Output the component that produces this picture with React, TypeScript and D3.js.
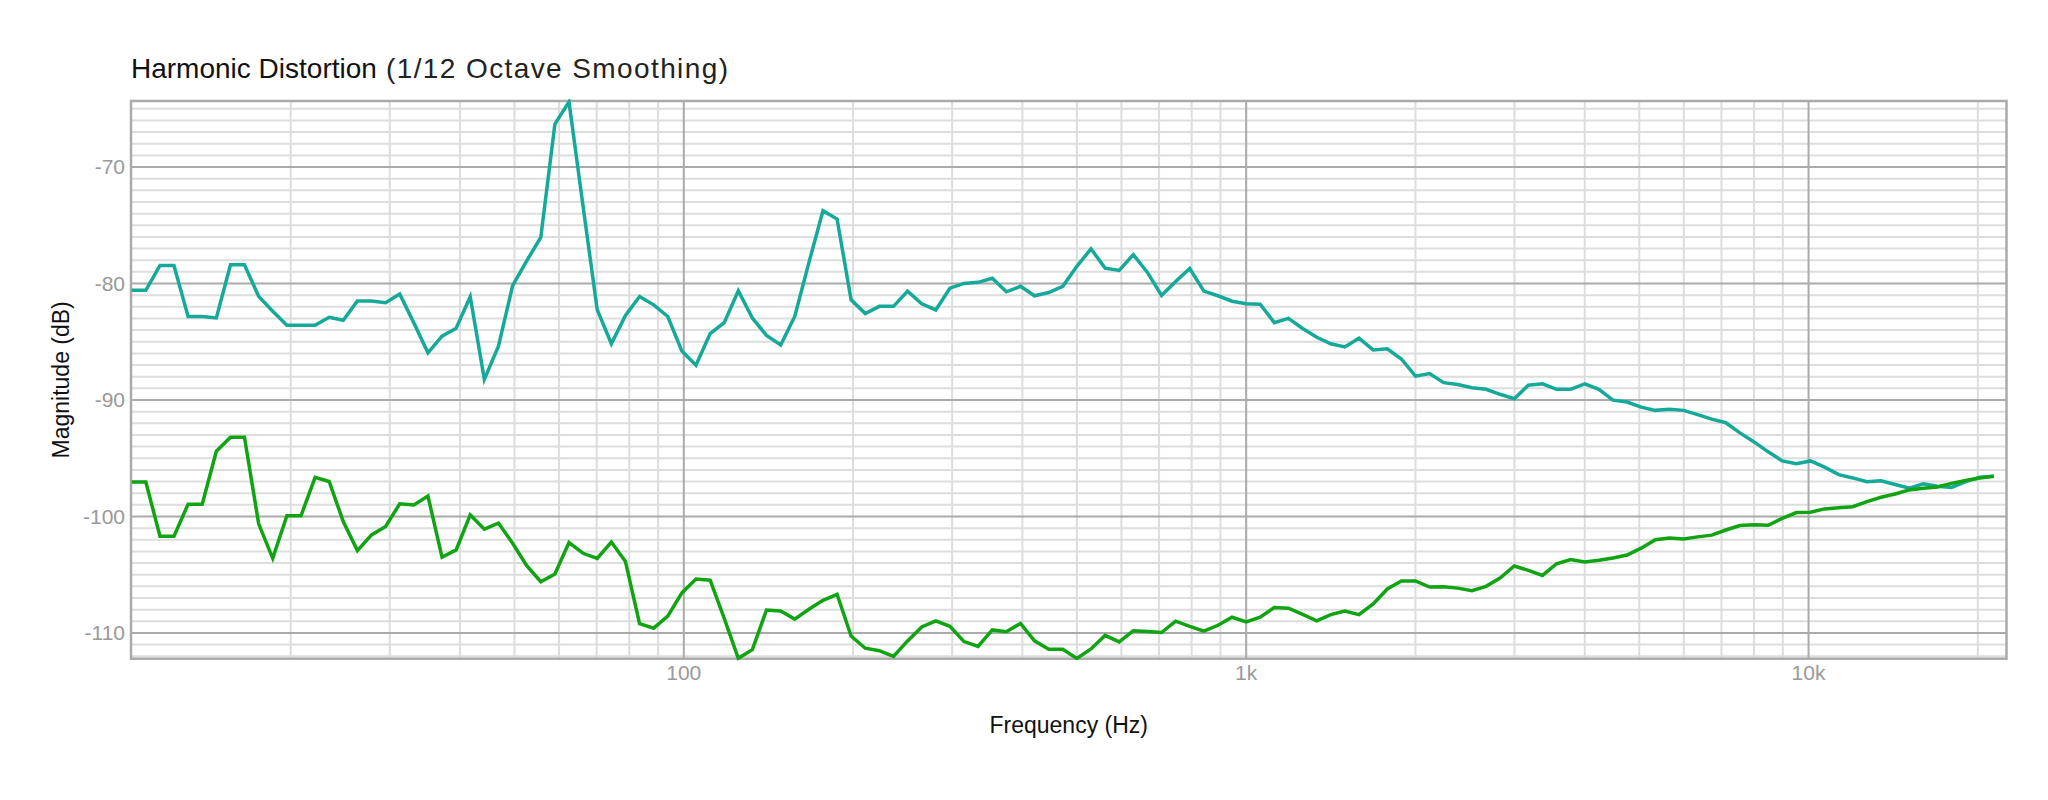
import React from "react";
import * as d3 from "d3";

const freqs: number[] = [
  10.43, 11.05, 11.71, 12.4, 13.14, 13.92, 14.75,
  15.63, 16.55, 17.54, 18.58, 19.69, 20.86, 22.1, 23.41, 24.8, 26.28, 27.84, 29.5,
  31.25, 33.11, 35.08, 37.16, 39.37, 41.71, 44.19, 46.82, 49.61, 52.56, 55.68, 58.99,
  62.5, 66.22, 70.15, 74.33, 78.75, 83.43, 88.39, 93.65, 99.21, 105.1, 111.4, 118.0,
  125, 132.4, 140.3, 148.7, 157.5, 166.9, 176.8, 187.3, 198.4, 210.2, 222.7, 236.0,
  250, 264.9, 280.6, 297.3, 315.0, 333.7, 353.6, 374.6, 396.9, 420.4, 445.5, 471.9,
  500, 529.7, 561.2, 594.6, 630.0, 667.4, 707.1, 749.2, 793.7, 840.9, 890.9, 943.9,
  1000, 1059, 1122, 1189, 1260, 1335, 1414, 1498, 1587, 1682, 1782, 1888,
  2000, 2119, 2245, 2378, 2520, 2670, 2828, 2997, 3175, 3364, 3564, 3775,
  4000, 4238, 4490, 4757, 5040, 5339, 5657, 5993, 6350, 6727, 7127, 7551,
  8000, 8476, 8980, 9514, 10079, 10679, 11314, 11986, 12699, 13454, 14254, 15102,
  16000, 16951, 17959, 19027, 20159, 21357,
];

const seriesTeal: number[] = [
  -80.58, -80.58, -78.45, -78.45, -82.84, -82.84, -82.95, -78.39, -78.39, -81.1,
  -82.38, -83.58, -83.58, -83.58, -82.9, -83.15, -81.5, -81.5, -81.64, -80.9,
  -83.38, -85.95, -84.52, -83.84, -81.13, -88.23, -85.38, -80.19, -78.05, -76.05,
  -66.32, -64.41, -73.4, -82.24, -85.17, -82.74, -81.11, -81.83, -82.83, -85.8,
  -87.02, -84.3, -83.36, -80.62, -82.96, -84.46, -85.27, -82.83, -78.21, -73.75,
  -74.46, -81.4, -82.58, -81.96, -81.96, -80.65, -81.74, -82.27, -80.4, -79.99,
  -79.9, -79.55, -80.71, -80.24, -81.05, -80.77, -80.24, -78.52, -77.02, -78.68,
  -78.87, -77.52, -79.05, -81.02, -79.83, -78.71, -80.65, -81.05, -81.52, -81.74,
  -81.77, -83.36, -82.99, -83.86, -84.61, -85.17, -85.45, -84.7, -85.7, -85.61,
  -86.48, -87.95, -87.73, -88.51, -88.67, -88.95, -89.08, -89.51, -89.89, -88.73,
  -88.61, -89.08, -89.08, -88.61, -89.08, -90.01, -90.17, -90.61, -90.89, -90.79,
  -90.89, -91.26, -91.64, -91.95, -92.82, -93.6, -94.45, -95.23, -95.48, -95.23,
  -95.76, -96.41, -96.69, -97.01, -96.94, -97.26, -97.57, -97.19, -97.41, -97.5,
  -97.01, -96.63, -96.54,
];

const seriesGreen: number[] = [
  -97.04, -97.04, -101.69, -101.69, -98.94, -98.94, -94.4, -93.2, -93.2, -100.63,
  -103.59, -99.94, -99.94, -96.64, -97.0, -100.43, -102.93, -101.58, -100.86, -98.91,
  -99.02, -98.25, -103.5, -102.87, -99.86, -101.09, -100.57, -102.3, -104.22, -105.6,
  -104.94, -102.24, -103.16, -103.6, -102.19, -103.87, -109.21, -109.59, -108.56, -106.56,
  -105.37, -105.47, -108.74, -112.18, -111.43, -108.03, -108.12, -108.81, -107.96, -107.2,
  -106.68, -110.27, -111.31, -111.52, -112.02, -110.68, -109.49, -108.96, -109.43, -110.74,
  -111.15, -109.74, -109.9, -109.18, -110.68, -111.4, -111.4, -112.18, -111.37, -110.21,
  -110.77, -109.81, -109.87, -109.96, -108.99, -109.43, -109.84, -109.34, -108.65, -109.06,
  -108.65, -107.81, -107.87, -108.4, -108.96, -108.43, -108.12, -108.43, -107.5, -106.22,
  -105.53, -105.53, -106.06, -106.03, -106.15, -106.37, -106.0, -105.28, -104.25, -104.62,
  -105.06, -104.06, -103.69, -103.91, -103.75, -103.56, -103.31, -102.72, -102.0, -101.84,
  -101.94, -101.75, -101.6, -101.16, -100.78, -100.72, -100.75, -100.16, -99.66, -99.63,
  -99.35, -99.25, -99.16, -98.72, -98.35, -98.07, -97.72, -97.57, -97.47, -97.16,
  -96.91, -96.69, -96.54,
];

const xTickValues: number[] = [100, 1000, 10000];
const xTickLabels: string[] = ["100", "1k", "10k"];
const yTickValues: number[] = [-70, -80, -90, -100, -110];

const X_DOMAIN: [number, number] = [10.4, 22490];
const Y_DOMAIN: [number, number] = [-112.21, -64.33];

const W = 2048;
const H = 800;
const M = { left: 131, top: 101, right: 2006.5, bottom: 658.7 };

const TEAL = "#15a99a";
const GREEN = "#10a312";
const MAJOR = "#aaaaaa";
const MINOR = "#dddddd";
const FONT = "'Liberation Sans', Arial, Helvetica, sans-serif";

export default function App() {
  const x = d3.scaleLog().domain(X_DOMAIN).range([M.left, M.right]);
  const y = d3.scaleLinear().domain(Y_DOMAIN).range([M.bottom, M.top]);

  const minorX: number[] = [];
  for (const dec of [10, 100, 1000, 10000]) {
    for (let m = 2; m <= 9; m++) {
      const f = dec * m;
      if (f > X_DOMAIN[0] && f < X_DOMAIN[1]) minorX.push(f);
    }
  }
  const minorY: number[] = [];
  for (let v = Math.ceil(Y_DOMAIN[0]); v <= Math.floor(Y_DOMAIN[1]); v++) {
    if (v % 10 !== 0) minorY.push(v);
  }

  const line = d3
    .line<number>()
    .x((_, i) => x(freqs[i]))
    .y((d) => y(d));

  return (
    <svg
      width={W}
      height={H}
      style={{ position: "absolute", left: 0, top: 0, background: "#fff" }}
      fontFamily={FONT}
    >
      <defs>
        <clipPath id="plotclip">
          <rect x={M.left} y={M.top - 2} width={M.right - M.left} height={M.bottom - M.top + 4} />
        </clipPath>
      </defs>
      <text x={131} y={78} fontSize={28} fill="#111">
        Harmonic Distortion
      </text>
      <text x={386} y={78} fontSize={28} fill="#222" textLength={342} lengthAdjust="spacing">
        (1/12 Octave Smoothing)
      </text>

      {minorY.map((v) => (
        <line key={"my" + v} x1={M.left} x2={M.right} y1={y(v)} y2={y(v)} stroke={MINOR} strokeWidth={2} />
      ))}
      {minorX.map((f) => (
        <line key={"mx" + f} x1={x(f)} x2={x(f)} y1={M.top} y2={M.bottom} stroke={MINOR} strokeWidth={2} />
      ))}
      {yTickValues.map((v) => (
        <line key={"My" + v} x1={M.left} x2={M.right} y1={y(v)} y2={y(v)} stroke={MAJOR} strokeWidth={2} />
      ))}
      {xTickValues.map((f) => (
        <line key={"Mx" + f} x1={x(f)} x2={x(f)} y1={M.top} y2={M.bottom} stroke={MAJOR} strokeWidth={2} />
      ))}
      <rect
        x={M.left}
        y={M.top}
        width={M.right - M.left}
        height={M.bottom - M.top}
        fill="none"
        stroke={MAJOR}
        strokeWidth={2.5}
      />

      <g clipPath="url(#plotclip)">
        <path d={line(seriesTeal) || ""} fill="none" stroke={TEAL} strokeWidth={3.5} strokeLinejoin="miter" />
        <path d={line(seriesGreen) || ""} fill="none" stroke={GREEN} strokeWidth={3.5} strokeLinejoin="miter" />
      </g>

      {yTickValues.map((v) => (
        <text key={"yl" + v} x={125} y={y(v)} dy="0.35em" textAnchor="end" fontSize={21} fill="#999">
          {v}
        </text>
      ))}
      {xTickValues.map((f, i) => (
        <text key={"xl" + f} x={x(f)} y={680} textAnchor="middle" fontSize={21} fill="#999">
          {xTickLabels[i]}
        </text>
      ))}

      <text x={(M.left + M.right) / 2} y={733} textAnchor="middle" fontSize={23} fill="#111">
        Frequency (Hz)
      </text>
      <text
        transform={`translate(69, ${(M.top + M.bottom) / 2}) rotate(-90)`}
        textAnchor="middle"
        fontSize={23}
        fill="#111"
      >
        Magnitude (dB)
      </text>
    </svg>
  );
}
